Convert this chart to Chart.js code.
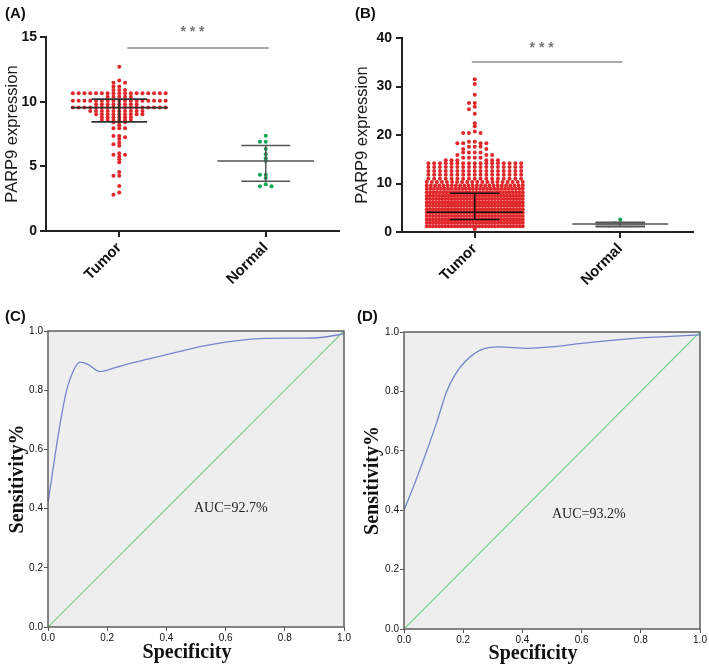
<!DOCTYPE html>
<html><head><meta charset="utf-8">
<script src="https://cdn.jsdelivr.net/npm/chart.js@4.4.1/dist/chart.umd.min.js"></script>
<style>
html,body{margin:0;padding:0;background:#fff}
body{width:709px;height:668px;position:relative;overflow:hidden}
canvas{position:absolute}
.lbl{position:absolute;font:bold 15px "Liberation Sans",Arial,sans-serif;color:#111;line-height:17px;z-index:2}
</style></head><body>
<canvas id="cA" width="350" height="330" style="left:0;top:0"></canvas>
<canvas id="cB" width="359" height="330" style="left:350px;top:0"></canvas>
<canvas id="cC" width="355" height="350" style="left:0;top:318px"></canvas>
<canvas id="cD" width="354" height="350" style="left:355px;top:318px"></canvas>
<div class="lbl" style="left:5px;top:4px">(A)</div>
<div class="lbl" style="left:355px;top:4px">(B)</div>
<div class="lbl" style="left:5px;top:307px">(C)</div>
<div class="lbl" style="left:357px;top:307px">(D)</div>
<script>
// ---------- data ----------
const categories = ['Tumor', 'Normal'];
const yTicksA = [0, 5, 10, 15];
const yTicksB = [0, 10, 20, 30, 40];
const rocTicks = [0, 0.2, 0.4, 0.6, 0.8, 1.0];

// panel A: rows of [value, number of dots]
const tumorA = [[12.7,1],[11.63,1],[11.47,2],[11.17,2],[10.9,3],[10.65,17],[10.38,5],[10.08,17],[9.8,8],[9.54,17],[9.28,10],[9.02,9],[8.79,6],[8.58,6],[8.4,3],[8.17,1],[7.94,3],[7.35,2],[7.24,1],[7.11,1],[6.83,1],[6.7,1],[6.6,1],[6.01,1],[5.9,2],[5.75,1],[5.54,1],[5.31,1],[4.56,1],[4.28,2],[3.48,1],[2.97,1],[2.81,1]];
const normalA = [[7.37,1],[6.91,2],[6.34,1],[5.93,1],[5.62,1],[5.41,1],[4.35,2],[4.1,1],[3.61,1],[3.46,2]];
const tumorStatsA = [8.43, 9.54, 10.2];   // lower, middle, upper
const normalStatsA = [3.84, 5.41, 6.62];
const sigLineA = [1.055, 2.02, 14.15];     // from, to, level
const starsA = [1.5, 15.35];

// panel B
const tumorB = [[31.5,1],[30.5,1],[28.3,1],[26.6,2],[25.8,1],[25.3,1],[24.4,1],[22.4,1],[21.8,1],[20.7,1],[20.4,3],[18.6,2],[18.3,4],[17.6,3],[17.1,2],[16.4,4],[15.9,3],[15.3,4],[14.8,6],[14.2,17],[13.4,17],[12.6,17],[11.8,17],[11.0,17],[10.3,20],[9.6,24],[8.9,28],[8.2,30],[7.5,32],[6.8,32],[6.1,32],[5.4,32],[4.7,32],[4.0,32],[3.3,32],[2.6,32],[1.9,32],[1.2,32],[0.6,1]];
const normalB = [[2.6,1],[1.8,2],[1.35,2]];
const tumorStatsB = [2.6, 4.06, 7.97];
const normalStatsB = [1.1, 1.65, 2.0];
const sigLineB = [0.98, 2.014, 35.05];
const starsB = [1.46, 37.9];

// panel C ROC
const fprC  = [0, 0.015, 0.03, 0.045, 0.063, 0.088, 0.108, 0.135, 0.176, 0.232, 0.288, 0.4, 0.514, 0.626, 0.739, 0.85, 0.92, 1.0];
const sensC = [0.42, 0.52, 0.62, 0.71, 0.8, 0.87, 0.895, 0.887, 0.863, 0.878, 0.893, 0.92, 0.947, 0.966, 0.975, 0.976, 0.978, 0.99];
const aucC = 'AUC=92.7%';
// panel D ROC
const fprD  = [0, 0.04, 0.077, 0.112, 0.144, 0.175, 0.206, 0.26, 0.32, 0.42, 0.5, 0.6, 0.7, 0.8, 0.9, 1.0];
const sensD = [0.40, 0.5, 0.6, 0.7, 0.8, 0.86, 0.9, 0.94, 0.95, 0.945, 0.95, 0.962, 0.972, 0.98, 0.985, 0.99];
const aucD = 'AUC=93.2%';
const chanceX = [0, 1];
const chanceY = [0, 1];

// ---------- styling ----------
const SANS = '"Liberation Sans", Arial, sans-serif';
const SERIF = '"Liberation Serif", "Times New Roman", serif';
const RED = '#e0282b', GREEN = '#0ea552';
const ROC_BLUE = '#7585cc', ROC_GREEN = '#6fd284';
Chart.defaults.font.family = SANS;
Chart.defaults.animation = false;

// column-scatter layout (GraphPad style) computed through the chart's own scales
function swarmLayout(rows, cat, chart, opt) {
  const xs = chart.scales.x, ys = chart.scales.y;
  const pxPerUnit = xs.getPixelForValue(cat + 1) - xs.getPixelForValue(cat);
  const placed = [], pts = [];
  for (const [v, n] of rows) {
    const py = ys.getPixelForValue(v);
    if ((n - 1) * opt.col > 2 * opt.maxHalf) {
      const s = 2 * opt.maxHalf / (n - 1);
      for (let i = 0; i < n; i++) {
        const off = (i - (n - 1) / 2) * s;
        placed.push({off, py}); pts.push({x: cat + off / pxPerUnit, y: v});
      }
    } else {
      for (let i = 0; i < n; i++) {
        let k = 0;
        for (let j = 0; j < 80; j++) {
          k = j === 0 ? 0 : (j % 2 ? -Math.ceil(j / 2) : j / 2);
          const off = k * opt.col;
          if (!placed.some(p => Math.abs(p.off - off) < opt.col * 0.6 && Math.abs(p.py - py) < opt.minDy)) break;
        }
        const off = k * opt.col;
        placed.push({off, py}); pts.push({x: cat + off / pxPerUnit, y: v});
      }
    }
  }
  return pts;
}

function dotChart(id, o) {
  const extras = {
    id: 'dotExtras',
    afterDatasetsDraw(chart) {
      const {ctx, scales: {x, y}} = chart;
      ctx.save();
      const seg = (x1, y1, x2, y2) => {
        ctx.beginPath();
        ctx.moveTo(x.getPixelForValue(x1), y.getPixelForValue(y1));
        ctx.lineTo(x.getPixelForValue(x2), y.getPixelForValue(y2));
        ctx.stroke();
      };
      o.stats.forEach(s => {
        const [lo, mid, hi] = s.vals;
        if (s.box) {
          ctx.fillStyle = s.box;
          const xl = x.getPixelForValue(s.cat - s.bar), xr = x.getPixelForValue(s.cat + s.bar);
          const yt = y.getPixelForValue(hi), yb = y.getPixelForValue(lo);
          ctx.fillRect(xl, yt, xr - xl, yb - yt);
        }
        ctx.strokeStyle = s.color; ctx.lineWidth = s.lw;
        seg(s.cat - s.wide, mid, s.cat + s.wide, mid);
        seg(s.cat - s.bar, hi, s.cat + s.bar, hi);
        seg(s.cat - s.bar, lo, s.cat + s.bar, lo);
        seg(s.cat, lo, s.cat, hi);
      });
      ctx.strokeStyle = '#555'; ctx.lineWidth = 1.2;
      seg(o.sig[0], o.sig[2], o.sig[1], o.sig[2]);
      ctx.fillStyle = '#777'; ctx.font = 'bold 14px ' + SANS;
      ctx.textAlign = 'center'; ctx.textBaseline = 'middle';
      ctx.fillText('* * *', x.getPixelForValue(o.stars[0]), y.getPixelForValue(o.stars[1]));
      ctx.restore();
    }
  };
  const chart = new Chart(document.getElementById(id), {
    type: 'scatter',
    data: {datasets: [
      {data: [], backgroundColor: RED, borderWidth: 0, pointRadius: 2},
      {data: [], backgroundColor: GREEN, borderWidth: 0, pointRadius: 2}
    ]},
    options: {
      responsive: false,
      layout: {padding: {top: o.padTop, right: o.padRight, left: 0, bottom: 0}},
      plugins: {legend: {display: false}, tooltip: {enabled: false}},
      scales: {
        x: {
          type: 'linear', min: 0.5, max: 2.5,
          afterBuildTicks: s => { s.ticks = categories.map((c, i) => ({value: i + 1})); },
          afterFit: s => { s.height = o.xH; },
          ticks: {callback: v => categories[v - 1], minRotation: 45, maxRotation: 45,
                  font: {size: 15, weight: 'bold'}, color: '#111', padding: 2},
          grid: {drawOnChartArea: false, tickLength: 6, color: '#222', lineWidth: 2},
          border: {color: '#222', width: 2}
        },
        y: {
          min: 0, max: o.yTicks[o.yTicks.length - 1],
          afterBuildTicks: s => { s.ticks = o.yTicks.map(v => ({value: v})); },
          afterFit: s => { s.width = o.yW; },
          ticks: {font: {size: 14, weight: 'bold'}, color: '#111', padding: o.tickPad},
          grid: {drawOnChartArea: false, tickLength: 6, color: '#222', lineWidth: 2},
          border: {color: '#222', width: 2},
          title: {display: true, text: 'PARP9 expression', color: '#1a1a1a',
                  font: {size: 16.5}, padding: {top: 3, bottom: 0}}
        }
      }
    },
    plugins: [extras]
  });
  const lay = {col: 5.8, maxHalf: 48, minDy: o.minDy};
  chart.data.datasets[0].data = swarmLayout(o.tumor, 1, chart, lay);
  chart.data.datasets[1].data = swarmLayout(o.normal, 2, chart, lay);
  chart.update('none');
}

dotChart('cA', {
  tumor: tumorA, normal: normalA, yTicks: yTicksA,
  padTop: 37, padRight: 11, yW: 46, xH: 99, tickPad: 3, minDy: 2.3,
  stats: [
    {cat: 1, vals: tumorStatsA, wide: 0.33, bar: 0.19, color: '#333', lw: 1.8},
    {cat: 2, vals: normalStatsA, wide: 0.33, bar: 0.167, color: '#555', lw: 1.5}
  ],
  sig: sigLineA, stars: starsA
});
dotChart('cB', {
  tumor: tumorB, normal: normalB, yTicks: yTicksB,
  padTop: 38, padRight: 16, yW: 52, xH: 98, tickPad: 4, minDy: 2.6,
  stats: [
    {cat: 1, vals: tumorStatsB, wide: 0.33, bar: 0.17, color: '#111', lw: 1.5},
    {cat: 2, vals: normalStatsB, wide: 0.33, bar: 0.17, color: '#555', lw: 1.5, box: '#999'}
  ],
  sig: sigLineB, stars: starsB
});

function rocChart(id, o) {
  const extras = {
    id: 'rocExtras',
    beforeDraw(chart) {
      const {ctx, chartArea: a} = chart;
      ctx.save(); ctx.fillStyle = '#eeeeee';
      ctx.fillRect(a.left, a.top, a.width, a.height); ctx.restore();
    },
    afterDatasetsDraw(chart) {
      const {ctx, chartArea: a, scales: {x, y}} = chart;
      ctx.save();
      ctx.strokeStyle = '#5e5e5e'; ctx.lineWidth = 1.5;
      ctx.strokeRect(a.left, a.top, a.width, a.height);
      ctx.fillStyle = '#222'; ctx.font = '14px ' + SERIF;
      ctx.textAlign = 'left'; ctx.textBaseline = 'alphabetic';
      ctx.fillText(o.auc, x.getPixelForValue(o.aucAt[0]), y.getPixelForValue(o.aucAt[1]));
      ctx.fillStyle = '#111'; ctx.font = 'bold 20px ' + SERIF; ctx.textAlign = 'center';
      ctx.fillText('Specificity', o.titleX, o.titleY);
      ctx.restore();
    }
  };
  new Chart(document.getElementById(id), {
    type: 'scatter',
    data: {datasets: [
      {data: o.fpr.map((v, i) => ({x: v, y: o.sens[i]})), showLine: true, borderColor: ROC_BLUE,
       borderWidth: 1.3, pointRadius: 0, cubicInterpolationMode: 'monotone'},
      {data: chanceX.map((v, i) => ({x: v, y: chanceY[i]})), showLine: true, borderColor: ROC_GREEN,
       borderWidth: 1.2, pointRadius: 0}
    ]},
    options: {
      responsive: false,
      layout: {padding: {top: o.padTop, right: o.padRight, left: 0, bottom: 0}},
      plugins: {legend: {display: false}, tooltip: {enabled: false}},
      scales: {
        x: {
          type: 'linear', min: 0, max: 1,
          afterBuildTicks: s => { s.ticks = rocTicks.map(v => ({value: v})); },
          afterFit: s => { s.height = o.xH; },
          ticks: {callback: v => v.toFixed(1), font: {size: 10}, color: '#111', padding: 1, maxRotation: 0},
          grid: {drawOnChartArea: false, tickLength: 4, color: '#555', lineWidth: 1},
          border: {display: false}
        },
        y: {
          min: 0, max: 1,
          afterBuildTicks: s => { s.ticks = rocTicks.map(v => ({value: v})); },
          afterFit: s => { s.width = o.yW; },
          ticks: {callback: v => v.toFixed(1), font: {size: 10}, color: '#111', padding: 1},
          grid: {drawOnChartArea: false, tickLength: 4, color: '#555', lineWidth: 1},
          border: {display: false},
          title: {display: true, text: 'Sensitivity%', color: '#111',
                  font: {family: SERIF, size: 20, weight: 'bold'}, padding: {top: 6, bottom: 0}}
        }
      }
    },
    plugins: [extras]
  });
}

rocChart('cC', {fpr: fprC, sens: sensC, auc: aucC, aucAt: [0.493, 0.389],
  padTop: 13, padRight: 11, yW: 48, xH: 41, titleX: 187, titleY: 340});
rocChart('cD', {fpr: fprD, sens: sensD, auc: aucD, aucAt: [0.5, 0.374],
  padTop: 14, padRight: 9, yW: 49, xH: 39, titleX: 178, titleY: 341});
</script>
</body></html>
